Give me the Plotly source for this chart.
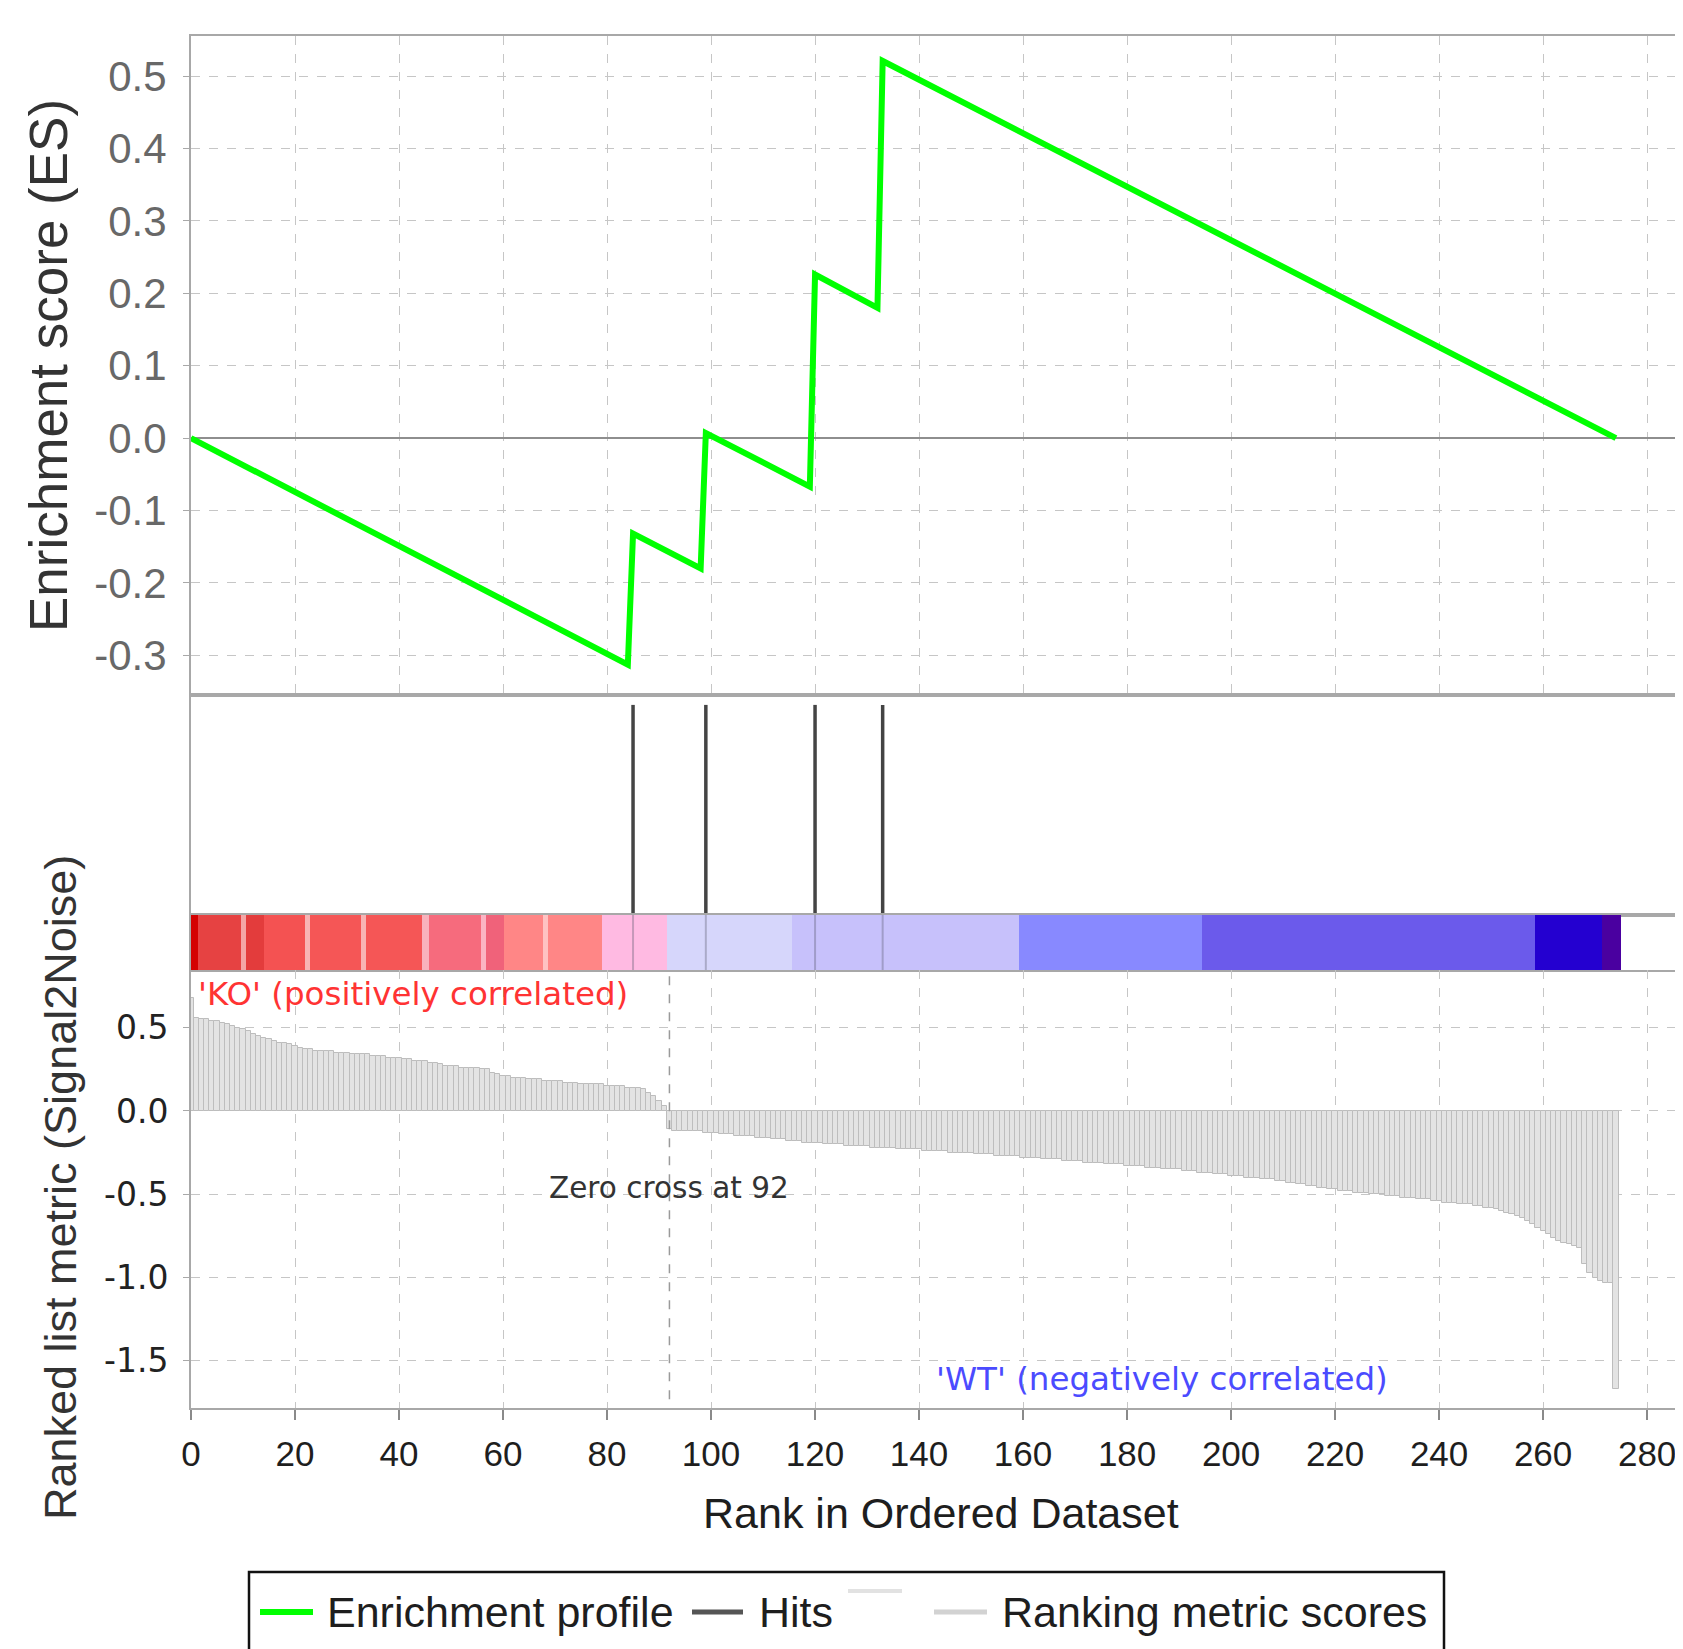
import plotly.graph_objects as go

# ---------------- data ----------------
es_rank = [0, 84, 85, 98, 99, 119, 120, 132, 133, 274]
es_score = [0.0, -0.313, -0.132, -0.180, 0.007, -0.067, 0.226, 0.180, 0.521, 0.0]

hit_ranks = [85, 99, 120, 133]
zero_cross = 92

metric_pos = [
    0.68, 0.56, 0.55, 0.55, 0.54, 0.54, 0.53, 0.52, 0.51, 0.50,
    0.49, 0.48, 0.46, 0.45, 0.44, 0.43, 0.42, 0.41, 0.41, 0.40,
    0.39, 0.38, 0.37, 0.37, 0.36, 0.36, 0.36, 0.36, 0.35, 0.35,
    0.35, 0.34, 0.34, 0.34, 0.34, 0.33, 0.33, 0.33, 0.32, 0.32,
    0.32, 0.31, 0.31, 0.30, 0.30, 0.30, 0.29, 0.29, 0.28, 0.27,
    0.27, 0.27, 0.26, 0.26, 0.26, 0.26, 0.25, 0.25, 0.23, 0.22,
    0.21, 0.21, 0.20, 0.20, 0.20, 0.19, 0.19, 0.19, 0.18, 0.18,
    0.18, 0.18, 0.17, 0.17, 0.17, 0.16, 0.16, 0.16, 0.16, 0.16,
    0.15, 0.15, 0.15, 0.15, 0.14, 0.14, 0.14, 0.13, 0.11, 0.09,
    0.06, 0.03,
]
metric_neg = [
    -0.11, -0.12, -0.12, -0.12, -0.12, -0.12, -0.12, -0.13, -0.13, -0.13,
    -0.14, -0.14, -0.14, -0.15, -0.15, -0.15, -0.15, -0.16, -0.16, -0.16,
    -0.17, -0.17, -0.17, -0.18, -0.18, -0.18, -0.19, -0.19, -0.19, -0.19,
    -0.20, -0.20, -0.20, -0.20, -0.21, -0.21, -0.21, -0.21, -0.21, -0.22,
    -0.22, -0.22, -0.22, -0.22, -0.23, -0.23, -0.23, -0.23, -0.23, -0.24,
    -0.24, -0.24, -0.24, -0.24, -0.25, -0.25, -0.25, -0.25, -0.25, -0.26,
    -0.26, -0.26, -0.26, -0.27, -0.27, -0.27, -0.27, -0.27, -0.28, -0.28,
    -0.28, -0.28, -0.29, -0.29, -0.29, -0.29, -0.30, -0.30, -0.30, -0.30,
    -0.31, -0.31, -0.31, -0.31, -0.32, -0.32, -0.32, -0.32, -0.33, -0.33,
    -0.33, -0.33, -0.34, -0.34, -0.34, -0.35, -0.35, -0.35, -0.35, -0.36,
    -0.36, -0.36, -0.37, -0.37, -0.37, -0.38, -0.38, -0.38, -0.39, -0.39,
    -0.39, -0.40, -0.40, -0.40, -0.41, -0.41, -0.41, -0.42, -0.42, -0.43,
    -0.43, -0.44, -0.44, -0.45, -0.45, -0.46, -0.46, -0.47, -0.47, -0.48,
    -0.48, -0.48, -0.49, -0.49, -0.49, -0.50, -0.50, -0.50, -0.51, -0.51,
    -0.51, -0.52, -0.52, -0.52, -0.53, -0.53, -0.53, -0.54, -0.54, -0.55,
    -0.55, -0.55, -0.56, -0.56, -0.56, -0.57, -0.57, -0.58, -0.58, -0.59,
    -0.60, -0.61, -0.62, -0.63, -0.64, -0.66, -0.68, -0.70, -0.72, -0.74,
    -0.76, -0.78, -0.79, -0.80, -0.81, -0.82, -0.92, -0.97, -1.00, -1.02,
    -1.03, -1.03, -1.67,
]
metric = metric_pos + metric_neg
metric_rank = list(range(len(metric)))

cb_start = [0, 1.3, 9.6, 10.6, 14.1, 21.9, 22.9, 32.7, 33.7, 44.4, 45.7, 55.7,
            56.7, 60.1, 67.7, 68.7, 79.1, 91.5, 115.5, 159.3, 194.4, 258.4, 271.4]
cb_end = [1.3, 9.6, 10.6, 14.1, 21.9, 22.9, 32.7, 33.7, 44.4, 45.7, 55.7, 56.7,
          60.1, 67.7, 68.7, 79.1, 91.5, 115.5, 159.3, 194.4, 258.4, 271.4, 275.0]
cb_color = ['#d40000', '#e64242', '#f4a6a6', '#e33c3c', '#f45252', '#f8b4b4',
            '#f55656', '#f8b4b4', '#f55656', '#f9b2bc', '#f66b7d', '#fbb4c4',
            '#f0627a', '#ff8686', '#ffc2c2', '#ff8686', '#ffbae2', '#d6d6fb',
            '#c7c1fb', '#8889ff', '#6b5aeb', '#2400d0', '#4a00a0']

es_ticks = [0.5, 0.4, 0.3, 0.2, 0.1, 0.0, -0.1, -0.2, -0.3]
es_ticktext = ['0.5', '0.4', '0.3', '0.2', '0.1', '0.0', '-0.1', '-0.2', '-0.3']
rm_ticks = [0.5, 0.0, -0.5, -1.0, -1.5]
rm_ticktext = ['0.5', '0.0', '-0.5', '-1.0', '-1.5']
x_ticks = [0, 20, 40, 60, 80, 100, 120, 140, 160, 180, 200, 220, 240, 260, 280]

# ---------------- geometry (pixels of the 1683 x 1649 window) ----------------
OFF = 8                     # page body margin of the browser
W, H = 1683 - OFF, 1649 - OFF
def fx(p):
    return (p - OFF) / W
def fy(p):
    return 1 - (p - OFF) / H

XR = [0, 286.9]
XD = [fx(191), 1.0]
ES_D = [fy(695), fy(36)]
HIT_D = [fy(915), fy(695)]
CB_D = [fy(970), fy(915)]
RM_D = [fy(1408), fy(970)]

SANS = "Liberation Sans, Arial, sans-serif"
DEJA = "DejaVu Sans, Verdana, sans-serif"
AXC = '#a8a8a8'
GRIDC = '#c6c6c6'

fig = go.Figure()

# enrichment profile
fig.add_trace(go.Scatter(x=es_rank, y=es_score, mode='lines',
                         line=dict(color='#00ff00', width=6), xaxis='x', yaxis='y',
                         showlegend=False, hoverinfo='skip'))

# hits
hx, hy, cx, cy = [], [], [], []
for h in hit_ranks:
    hx += [h, h, None]
    hy += [0, 0.955, None]
    cx += [h, h, None]
    cy += [0, 1, None]
fig.add_trace(go.Scatter(x=hx, y=hy, mode='lines', line=dict(color='#444444', width=3.5),
                         xaxis='x2', yaxis='y2', showlegend=False, hoverinfo='skip'))

# colour bar
fig.add_trace(go.Bar(orientation='h', y=[0.5] * len(cb_start),
                     x=[e - s for s, e in zip(cb_start, cb_end)], base=cb_start,
                     width=1.0, marker=dict(color=cb_color, line=dict(width=0)),
                     xaxis='x3', yaxis='y3', showlegend=False, hoverinfo='skip'))
fig.add_trace(go.Scatter(x=cx, y=cy, mode='lines', line=dict(color='rgba(90,90,110,0.35)', width=2),
                         xaxis='x3', yaxis='y3', showlegend=False, hoverinfo='skip'))

# ranked list metric
fig.add_trace(go.Bar(x=metric_rank, y=metric, width=1.0,
                     marker=dict(color='#e3e3e3', line=dict(width=1.0, color='#bdbdbd')),
                     xaxis='x4', yaxis='y4', showlegend=False, hoverinfo='skip'))
fig.add_trace(go.Scatter(x=[zero_cross, zero_cross], y=[-1.73, 0.846], mode='lines',
                         line=dict(color='#9a9a9a', width=1.5, dash='dash'),
                         xaxis='x4', yaxis='y4', showlegend=False, hoverinfo='skip'))

common_x = dict(range=XR, domain=XD, zeroline=False, showline=True, linecolor=AXC,
                linewidth=2, mirror=True, tick0=0, dtick=20, automargin=False)

fig.update_layout(
    template='none',
    width=W, height=H,
    margin=dict(l=0, r=0, t=0, b=0, pad=0),
    autosize=False,
    paper_bgcolor='white', plot_bgcolor='white',
    barmode='overlay', bargap=0,
    showlegend=False,
    xaxis=dict(**common_x, anchor='y', showgrid=True, gridcolor=GRIDC, griddash='dash',
               gridwidth=1.3, showticklabels=False, ticks=''),
    yaxis=dict(domain=ES_D, range=[-0.355, 0.5555], anchor='x', tickvals=es_ticks,
               ticktext=es_ticktext, showgrid=True, gridcolor=GRIDC, griddash='dash',
               gridwidth=1.3, zeroline=True, zerolinecolor='#8e8e8e', zerolinewidth=2,
               showline=True, linecolor=AXC, linewidth=2, ticks='outside', ticklen=6,
               tickcolor=AXC, tickfont=dict(family=SANS, size=42, color='#686868'),
               ticklabelstandoff=8, automargin=False),
    xaxis2=dict(**common_x, anchor='y2', showgrid=False, showticklabels=False, ticks=''),
    yaxis2=dict(domain=HIT_D, range=[0, 1], anchor='x2', showgrid=False, zeroline=False,
                showticklabels=False, showline=True, linecolor=AXC, linewidth=2, ticks='',
                automargin=False),
    xaxis3=dict(**common_x, anchor='y3', showgrid=False, showticklabels=False, ticks=''),
    yaxis3=dict(domain=CB_D, range=[0, 1], anchor='x3', showgrid=False, zeroline=False,
                showticklabels=False, showline=True, linecolor=AXC, linewidth=2, ticks='',
                automargin=False),
    xaxis4=dict(range=XR, domain=XD, anchor='y4', zeroline=False, showline=True,
                linecolor=AXC, linewidth=2, mirror=False, tickvals=x_ticks,
                showgrid=True, gridcolor=GRIDC, griddash='dash', gridwidth=1.3,
                ticks='outside', ticklen=10, tickcolor='#8a8a8a', tickwidth=1.5,
                tickfont=dict(family=SANS, size=35, color='#1e1e1e'),
                ticklabelstandoff=4, automargin=False),
    yaxis4=dict(domain=RM_D, range=[-1.783, 0.846], anchor='x4', tickvals=rm_ticks,
                ticktext=rm_ticktext, showgrid=True, gridcolor=GRIDC, griddash='dash',
                gridwidth=1.3, zeroline=False, showline=True, linecolor=AXC, linewidth=2,
                ticks='outside', ticklen=6, tickcolor=AXC,
                tickfont=dict(family=DEJA, size=33, color='#222222'),
                ticklabelstandoff=8, automargin=False),
)

ann = []
ann.append(dict(text='Enrichment score (ES)', xref='paper', yref='paper', x=fx(48), y=fy(366),
                textangle=-90, showarrow=False, xanchor='center', yanchor='middle',
                font=dict(family=SANS, size=53, color='#333333')))
ann.append(dict(text='Ranked list metric (Signal2Noise)', xref='paper', yref='paper',
                x=fx(60), y=fy(1188), textangle=-90, showarrow=False,
                xanchor='center', yanchor='middle',
                font=dict(family=SANS, size=45, color='#333333')))
ann.append(dict(text='Rank in Ordered Dataset', xref='paper', yref='paper', x=fx(941),
                y=fy(1513), showarrow=False, xanchor='center', yanchor='middle',
                font=dict(family=SANS, size=43, color='#1e1e1e')))
ann.append(dict(text="'KO' (positively correlated)", xref='x4', yref='y4', x=1, y=0.70,
                showarrow=False, xanchor='left', yanchor='middle',
                font=dict(family=DEJA, size=32.5, color='#ff3333')))
ann.append(dict(text="'WT' (negatively correlated)", xref='x4', yref='y4', x=230.5, y=-1.61,
                showarrow=False, xanchor='right', yanchor='middle',
                font=dict(family=DEJA, size=32.5, color='#4b4bff')))
ann.append(dict(text='Zero cross at ' + str(zero_cross), xref='x4', yref='y4', x=zero_cross,
                y=-0.465, showarrow=False, xanchor='center', yanchor='middle',
                font=dict(family=DEJA, size=29.5, color='#333333')))

# manual legend
LY = fy(1612)
shapes = [
    dict(type='rect', xref='paper', yref='paper', x0=fx(249), x1=fx(1444), y0=fy(1700),
         y1=fy(1572), line=dict(color='#111111', width=2.5), fillcolor='rgba(0,0,0,0)'),
    dict(type='line', xref='paper', yref='paper', x0=fx(260), x1=fx(313), y0=LY, y1=LY,
         line=dict(color='#00ff00', width=6)),
    dict(type='line', xref='paper', yref='paper', x0=fx(692), x1=fx(743), y0=LY, y1=LY,
         line=dict(color='#555555', width=5)),
    dict(type='line', xref='paper', yref='paper', x0=fx(848), x1=fx(902), y0=fy(1591),
         y1=fy(1591), line=dict(color='#e2e2e2', width=4)),
    dict(type='line', xref='paper', yref='paper', x0=fx(934), x1=fx(987), y0=LY, y1=LY,
         line=dict(color='#d2d2d2', width=5)),
]
for txt, xl in [('Enrichment profile', 325), ('Hits', 757), ('Ranking metric scores', 1000)]:
    ann.append(dict(text=txt, xref='paper', yref='paper', x=fx(xl), y=LY, showarrow=False,
                    xanchor='left', yanchor='middle',
                    font=dict(family=SANS, size=43, color='#1e1e1e')))

fig.update_layout(annotations=ann, shapes=shapes)
fig.write_html('out.html')
